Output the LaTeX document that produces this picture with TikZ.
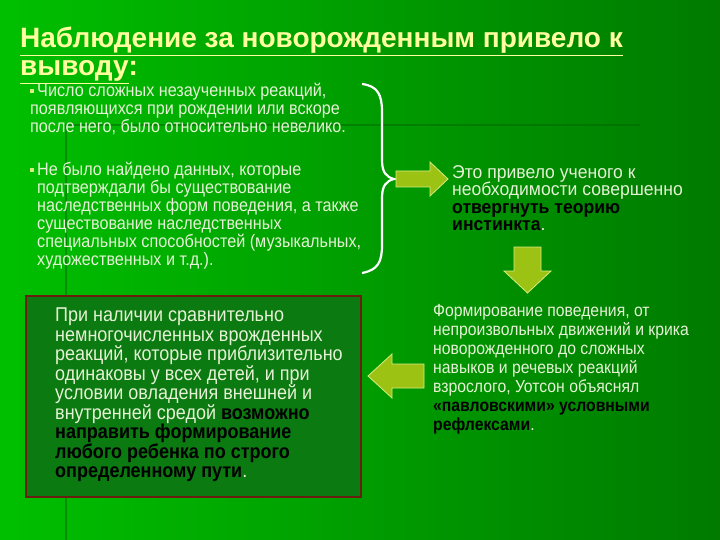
\documentclass[tikz,border=0pt]{standalone}
\usepackage{fontspec}
\setmainfont{Liberation Sans}
\newfontfamily\narrowf[FakeStretch=0.9]{Liberation Sans}
\newfontfamily\narrowg[FakeStretch=0.95]{Liberation Sans}
\newcommand\myul[1]{\underline{#1}}
\definecolor{pale}{HTML}{E6F2D6}
\definecolor{ttl}{HTML}{FFFFA0}
\definecolor{arr}{HTML}{9CC214}
\definecolor{arrl}{HTML}{D8EC80}
\definecolor{boxf}{HTML}{0B7A10}
\definecolor{boxd}{HTML}{6A1E10}
\newcommand\mybul{\raisebox{3.5pt}{\textcolor{arrl}{\rule{4pt}{4pt}}}\hspace{3pt}}
\begin{document}
\begin{tikzpicture}[x=1pt,y=-1pt,
  txt/.style={anchor=north west,align=left,inner sep=0pt,text=pale,font=\narrowf\fontsize{18}{18}\selectfont},
  arrow/.style={fill=arr,draw=arrl,line width=0.8pt}]
\useasboundingbox (0,0) rectangle (720,540);
\shade[left color=green!75!black, right color=green!48!black] (0,0) rectangle (720,540);
\draw[black!60!green,opacity=0.5,line width=2pt] (65,125) -- (640,125);
\draw[black!60!green,opacity=0.5,line width=2pt] (66,125) -- (66,540);
\node[anchor=north west,align=left,inner sep=0pt,text=ttl,font=\bfseries\fontsize{28}{28}\selectfont] (title) at (20,27)
 {\myul{Наблюдение за новорожденным привело к}\\\myul{выводу}:};
\node[txt] (b1) at (30,83) {\mybul Число сложных незаученных реакций,\\появляющихся при рождении или вскоре\\после него, было относительно невелико.};
\node[txt] (b2) at (37,162) {\llap{\mybul}Не было найдено данных, которые\\подтверждали бы существование\\наследственных форм поведения, а также\\существование наследственных\\специальных способностей (музыкальных,\\художественных и т.д.).};
% brace
\draw[white,line width=2.2pt] (362,84) .. controls (378,86) and (382,95) .. (382,112) -- (382,160) .. controls (382,172) and (386,177) .. (394,179)
  .. controls (386,181) and (382,186) .. (382,198) -- (382,245) .. controls (382,262) and (378,270) .. (362,273);
\draw[arrow] (396,171) -- (430,171) -- (430,162) -- (448,179) -- (430,196) -- (430,187) -- (396,187) -- cycle;
\node[anchor=north west,align=left,inner sep=0pt,text=pale,font=\narrowg\fontsize{18.5}{17.5}\selectfont] (r1) at (452,165)
 {Это привело ученого к\\необходимости совершенно\\\textcolor{black}{\bfseries отвергнуть теорию}\\\textcolor{black}{\bfseries инстинкта}.};
\draw[arrow] (514,247) -- (541,247) -- (541,271) -- (551,271) -- (527.5,293) -- (504,271) -- (514,271) -- cycle;
\node[anchor=north west,align=left,inner sep=0pt,text=pale,font=\narrowf\fontsize{17.5}{19}\selectfont] (r2) at (433,304)
 {Формирование поведения, от\\непроизвольных движений и крика\\новорожденного до сложных\\навыков и речевых реакций\\взрослого, Уотсон объяснял\\\textcolor{black}{\bfseries «павловскими» условными}\\\textcolor{black}{\bfseries рефлексами}.};
\node[draw=boxd,fill=boxf,line width=2.2pt,minimum width=335pt,minimum height=201pt,anchor=north west] (box) at (25,295) {};
\node[anchor=north west,align=left,inner sep=0pt,text=pale,font=\narrowf\fontsize{20}{19.5}\selectfont] (bt) at (55,308)
 {При наличии сравнительно\\немногочисленных врожденных\\реакций, которые приблизительно\\одинаковы у всех детей, и при\\условии овладения внешней и\\внутренней средой \textcolor{black}{\bfseries возможно}\\\textcolor{black}{\bfseries направить формирование}\\\textcolor{black}{\bfseries любого ребенка по строго}\\\textcolor{black}{\bfseries определенному пути}.};
\draw[arrow] (424,364) -- (392,364) -- (392,354) -- (368,376) -- (392,398) -- (392,388) -- (424,388) -- cycle;
\end{tikzpicture}
\end{document}
